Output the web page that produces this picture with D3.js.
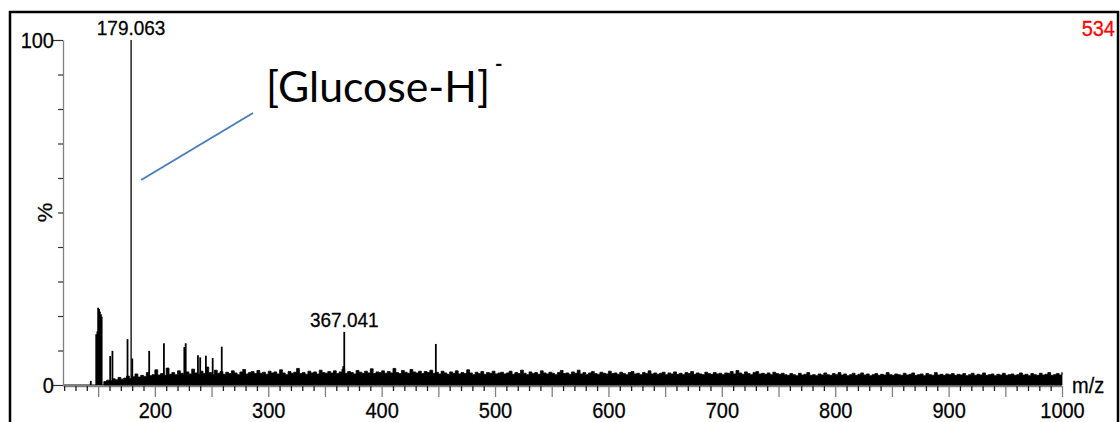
<!DOCTYPE html>
<html>
<head>
<meta charset="utf-8">
<script src="https://cdn.jsdelivr.net/npm/d3@7"></script>
<style>
  body { margin: 0; background: #fff; }
  svg { display: block; }
</style>
</head>
<body>
<svg id="chart" width="1120" height="422"></svg>
<script>
var FONT = "'Liberation Sans', Arial, sans-serif";
var STRETCH = "scale(1,1.1)";

// noticeable peaks: m/z and relative intensity (%)
var peakMz = [143.5, 148.3, 149.3, 150.0, 150.8, 151.6, 152.4, 153.1, 160.6, 162.6, 175.9,
              179.063, 180.1, 195.0, 208.0, 226.0, 227.2, 238.0, 240.0, 245.0, 251.0, 259.0,
              366.2, 367.041, 447.8];
var peakInt = [1.2, 14.7, 15.5, 22.4, 22.0, 21.2, 20.5, 19.8, 8.4, 9.9, 13.3,
               100, 7.7, 9.9, 12.1, 11.0, 12.1, 8.6, 8.0, 8.5, 7.8, 11.1,
               5.5, 15.4, 11.9];

// chemical noise read every 2.5 m/z from 155 to 1000
var noiseStart = 155;
var noiseStep = 2.5;
var noiseInt = [
  1.0, 1.4, 1.2, 1.8, 1.5, 2.2, 1.7, 2.0, 2.6, 1.9, 2.4, 3.2, 2.3, 2.8, 2.5, 3.6, 2.7, 3.0, 4.4, 2.9,
  3.3, 2.8, 4.9, 3.1, 3.6, 3.0, 4.1, 3.4, 2.9, 3.8, 3.2, 4.6, 3.5, 3.1, 4.0, 3.3, 5.2, 3.6, 3.0, 4.3,
  3.4, 3.9, 3.1, 3.7, 3.3, 4.1, 3.5, 3.0, 3.8, 4.5, 3.2, 3.6, 3.9, 3.3, 4.2, 3.4, 3.7, 3.1, 4.0, 3.5,
  3.8, 3.2, 4.4, 3.5, 3.0, 3.9, 3.4, 3.7, 4.8, 3.3, 3.6, 3.1, 4.0, 3.5, 3.8, 3.2, 4.3, 3.6, 3.4, 3.9,
  3.5, 4.1, 3.3, 3.8, 4.6, 3.4, 3.9, 3.6, 3.2, 4.2, 3.7, 3.4, 4.0, 3.5, 4.7, 3.3, 3.8, 3.6, 4.1, 3.4,
  3.9, 3.5, 4.8, 3.6, 3.3, 4.2, 3.7, 3.4, 4.5, 3.8, 3.5, 4.0, 3.3, 3.9, 3.6, 4.3, 3.4, 3.7, 3.2, 4.0,
  3.5, 3.1, 3.8, 3.4, 4.1, 3.2, 3.6, 3.3, 4.4, 3.5, 3.0, 3.7, 3.3, 3.9, 3.1, 3.6, 3.4, 4.0, 3.2, 3.5,
  3.7, 3.2, 3.5, 4.0, 3.1, 3.6, 3.3, 4.3, 3.4, 3.0, 3.8, 3.3, 3.6, 3.1, 4.1, 3.5, 3.2, 3.7, 3.4, 3.0,
  3.6, 4.2, 3.3, 3.5, 3.1, 3.8, 3.4, 4.3, 3.2, 3.6, 3.0, 3.5, 3.9, 3.3, 3.1, 3.7, 3.4, 3.2, 4.0, 3.3,
  3.5, 3.1, 3.7, 3.3, 3.0, 3.6, 3.9, 3.2, 3.4, 3.0, 3.6, 3.3, 4.1, 3.2, 3.5, 3.1, 3.4, 3.7, 3.0, 3.5,
  3.2, 3.8, 3.1, 3.4, 3.0, 3.6, 3.3, 3.9, 3.1, 3.5, 3.2, 3.0, 3.7, 3.3, 3.1, 3.6, 3.2, 3.4, 3.0, 3.5,
  3.4, 3.9, 3.2, 4.2, 3.5, 3.1, 3.8, 3.3, 3.0, 3.6, 3.9, 3.2, 3.4, 3.1, 3.5, 3.0, 3.7, 3.3, 3.1, 3.4,
  3.0, 2.8, 3.3, 3.0, 2.7, 3.4, 2.9, 3.1, 3.6, 2.8, 3.0, 2.7, 3.2, 2.9, 3.5, 3.0, 2.8, 3.3, 3.0, 3.6,
  2.9, 3.2, 2.7, 3.0, 3.4, 2.8, 3.1, 3.5, 2.9, 3.2, 2.7, 3.0, 3.3, 2.8, 3.1, 2.9, 3.6, 3.0, 2.8, 3.2,
  3.0, 2.8, 3.4, 2.9, 3.1, 3.5, 2.8, 3.0, 3.2, 2.7, 3.3, 3.0, 2.8, 3.6, 2.9, 3.1, 2.8, 3.2, 3.0, 3.3,
  2.8, 3.1, 2.9, 3.3, 2.7, 3.0, 3.4, 2.8, 3.1, 2.9, 3.5, 2.8, 3.0, 3.2, 2.7, 3.1, 2.9, 3.4, 2.8, 3.0,
  3.2, 2.8, 3.0, 3.5, 2.9, 3.1, 2.7, 3.3, 3.0, 2.8, 3.4, 2.9, 3.1, 3.6, 2.8, 3.0, 3.3, 2.9, 3.7
];

var xTickValues = d3.range(120, 1001, 10);
var xLabelValues = d3.range(200, 1001, 100);
var yTickValues = d3.range(0, 101, 10);

var peakLabels = [
  {mz: 179.063, text: "179.063"},
  {mz: 367.041, text: "367.041"}
];

var svg = d3.select("#chart");

var x = d3.scaleLinear().domain([119, 1000]).range([63, 1062]);
var y = d3.scaleLinear().domain([0, 100]).range([385, 40]);

// stretched Arial-like text, placed by transform
function label(px, py, str, size, anchor) {
    return svg.append("text")
        .attr("transform", "translate(" + px + "," + py + ") " + STRETCH)
        .attr("text-anchor", anchor || "start")
        .attr("font-family", FONT)
        .attr("font-size", size)
        .attr("stroke", "currentColor")
        .attr("stroke-width", 0.25)
        .text(str);
}

// outer frame
svg.append("rect")
    .attr("x", 10).attr("y", 12)
    .attr("width", 1108).attr("height", 460)
    .attr("fill", "none")
    .attr("stroke", "black")
    .attr("stroke-width", 2.5);

// noise band, drawn as steps so the top reads like dense sticks
var noise = noiseInt.map(function(v, i){ return {mz: noiseStart + i * noiseStep, v: v}; });
noise.unshift({mz: noiseStart, v: 0});
noise.push({mz: 1000, v: 0});
svg.append("path")
    .datum(noise)
    .attr("fill", "black")
    .attr("stroke", "black")
    .attr("stroke-width", 0.8)
    .attr("d", d3.area()
        .curve(d3.curveStepAfter)
        .x(function(d){ return x(d.mz); })
        .y0(y(0))
        .y1(function(d){ return y(d.v); }));

// baseline of trace
svg.append("line")
    .attr("x1", x(119)).attr("x2", x(1000))
    .attr("y1", y(0)).attr("y2", y(0))
    .attr("stroke", "black").attr("stroke-width", 1.2);

// peaks
svg.selectAll(".peak")
    .data(peakMz)
    .enter().append("line")
    .attr("class", "peak")
    .attr("x1", function(d){ return x(d); })
    .attr("x2", function(d){ return x(d); })
    .attr("y1", y(0))
    .attr("y2", function(d, i){ return y(peakInt[i]); })
    .attr("stroke", "black")
    .attr("stroke-width", function(d){ return d === 179.063 ? 1.3 : 1.8; });

// x axis
var xAxis = svg.append("g")
    .attr("transform", "translate(0," + (y(0) + 1) + ")")
    .call(d3.axisBottom(x)
        .tickValues(xTickValues)
        .tickSize(5)
        .tickSizeOuter(0)
        .tickPadding(10)
        .tickFormat(function(d){ return xLabelValues.indexOf(d) >= 0 ? d : ""; }));
xAxis.select(".domain").attr("stroke", "#808080").attr("stroke-width", 1.3);
xAxis.selectAll(".tick line")
    .attr("stroke", function(d){ return d % 50 === 0 ? "#808080" : "#222"; })
    .attr("stroke-width", 1.3)
    .attr("y2", function(d){ return d % 50 === 0 ? 11 : 5; });
xAxis.selectAll(".tick text")
    .attr("transform", STRETCH)
    .attr("font-family", FONT)
    .attr("font-size", 20)
    .attr("fill", "black")
    .attr("stroke", "black")
    .attr("stroke-width", 0.25);

// y axis
var yAxis = svg.append("g")
    .attr("transform", "translate(63,0)")
    .call(d3.axisLeft(y)
        .tickValues(yTickValues)
        .tickSize(4)
        .tickSizeOuter(0)
        .tickPadding(1)
        .tickFormat(function(d){ return (d === 0 || d === 100) ? d : ""; }));
yAxis.select(".domain").attr("stroke", "#808080").attr("stroke-width", 1.3);
yAxis.selectAll(".tick line")
    .attr("stroke", "#333")
    .attr("stroke-width", 1.2)
    .attr("x2", function(d){ return (d === 0 || d === 100) ? -10 : -5; });
yAxis.selectAll(".tick text")
    .attr("x", -9)
    .attr("transform", STRETCH)
    .attr("font-family", FONT)
    .attr("font-size", 20)
    .attr("fill", "black")
    .attr("stroke", "black")
    .attr("stroke-width", 0.25);

svg.append("text")
    .attr("transform", "translate(52," + y(50) + ") rotate(-90) scale(1.1,1)")
    .attr("text-anchor", "middle")
    .attr("font-family", FONT)
    .attr("font-size", 20)
    .attr("stroke", "black")
    .attr("stroke-width", 0.25)
    .text("%");

label(1072, 393, "m/z", 20);

// peak labels
peakLabels.forEach(function(p){
    var h = peakInt[peakMz.indexOf(p.mz)];
    label(x(p.mz), y(h) - 5, p.text, 19, "middle");
});

// max intensity in red
label(1115, 36, "534", 20, "end").attr("fill", "#ff0000").attr("stroke", "#ff0000");

// annotation
svg.append("line")
    .attr("x1", x(179.063) + 10).attr("y1", 180)
    .attr("x2", 253).attr("y2", 113)
    .attr("stroke", "#4a7ebb")
    .attr("stroke-width", 2);

svg.append("text")
    .attr("x", 266).attr("y", 102)
    .attr("font-family", "Lato, 'Open Sans', sans-serif")
    .attr("font-size", 43)
    .attr("textLength", 224)
    .attr("lengthAdjust", "spacingAndGlyphs")
    .text("[Glucose-H]");

svg.append("text")
    .attr("x", 495).attr("y", 71)
    .attr("font-family", "Lato, 'Open Sans', sans-serif")
    .attr("font-size", 20)
    .attr("font-weight", "bold")
    .text("-");
</script>
</body>
</html>
